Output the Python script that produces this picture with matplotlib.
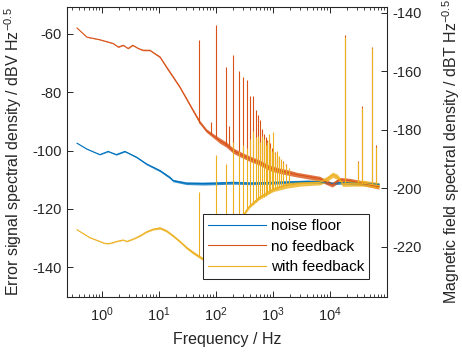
import numpy as np
import matplotlib
matplotlib.use("Agg")
import matplotlib.pyplot as plt
import matplotlib.ticker as ticker

plt.rcParams["font.family"] = ["Liberation Sans", "DejaVu Sans"]
plt.rcParams["mathtext.fontset"] = "custom"
plt.rcParams["mathtext.rm"] = "Liberation Sans"
plt.rcParams["mathtext.it"] = "Liberation Sans:italic"
plt.rcParams["mathtext.default"] = "regular"
plt.rcParams["axes.unicode_minus"] = False

#noise floor (Hz, dBV/rtHz, spread of the noise band)
noise_freq = [0.37, 0.55, 0.93, 1.3, 1.8, 2.55, 4.1, 6.1, 10.5, 15.6, 17.9, 30.6, 60, 100, 200,
              400, 1000, 2000, 4000, 8000, 11000, 15000, 30000, 72000]
noise_level = [-97.5, -99.5, -101.4, -100.3, -101.4, -100.3, -102.3, -104.6, -106.9, -109.2, -110.3,
               -111.2, -111.3, -111.2, -111.0, -111.2, -111.0, -110.8, -110.6, -110.8, -111.3, -111.0,
               -111.2, -111.6]
noise_spread = [0.05, 0.1, 0.12, 0.15, 0.2, 0.2, 0.25, 0.3, 0.35, 0.4, 0.4, 0.45, 0.5, 0.5, 0.5,
                0.5, 0.5, 0.5, 0.5, 0.5, 0.5, 0.5, 0.6, 0.6]

#no feedback
orange_freq = [0.37, 0.55, 0.93, 1.6, 1.95, 2.4, 2.9, 3.5, 4.4, 5.3, 7.0, 8.6, 10.5, 13.7, 17.9,
               23.4, 30.6, 39.9, 52.3, 68.5, 89.4, 117, 153, 200, 262, 392, 580, 860, 1300, 1900,
               2700, 4100, 6600, 9000, 11000, 14700, 22000, 40000, 72000]
orange_level = [-58.1, -61.2, -62.1, -63.4, -64.6, -64.0, -65.1, -64.0, -65.1, -65.7, -65.7, -66.9,
                -68.0, -71.5, -74.9, -78.3, -82.3, -86.3, -90.3, -93.2, -94.9, -96.6, -98.0,
                -100.0, -101.2, -102.8, -104.1, -105.9, -106.9, -107.6, -108.3, -108.9, -109.6,
                -111.0, -111.7, -110.0, -110.3, -111.3, -112.4]
orange_spread = [0.05, 0.1, 0.1, 0.15, 0.15, 0.15, 0.15, 0.15, 0.15, 0.2, 0.2, 0.25, 0.3, 0.4, 0.4,
                 0.4, 0.45, 0.5, 0.6, 0.6, 0.7, 0.9, 0.9, 0.9, 0.9, 0.9, 0.9, 0.9, 0.9, 0.9,
                 0.8, 0.8, 0.8, 0.8, 0.8, 0.8, 0.8, 0.8, 0.8]
orange_spike_freq = [50, 84, 100, 150, 168, 200, 250, 300, 350, 400, 450, 500, 550, 600, 650, 700,
                     750, 800, 850, 900, 950, 1000, 1100, 1200, 1300, 1500, 1700,
                     18400, 31500, 36600, 54700, 64300]
orange_spike_base = [-90.5, -94.5, -95.5, -98, -98.5, -100, -101, -101.8, -102.3, -102.8, -103.2,
                     -103.6, -104, -104.2, -104.5, -104.8, -105, -105.3, -105.5, -105.7, -105.9,
                     -106, -106.3, -106.5, -106.8, -107.2, -107.5,
                     -110.3, -111, -111, -111.3, -111.5]
orange_spike_peak = [-62.3, -90.3, -57.1, -71.5, -91.5, -67.4, -72.9, -74.9, -76, -81.2, -81.2,
                     -86.3, -88, -89.7, -92.6, -94.2, -95.5, -96.5, -96, -97.5, -99, -100, -100.5,
                     -101.5, -102.5, -103.5, -104.5,
                     -60.5, -103.5, -84.8, -64.5, -98.2]

#with feedback
yellow_freq = [0.37, 0.62, 0.93, 1.14, 1.4, 1.83, 2.39, 2.74, 3.57, 4.67, 6.12, 8.0, 10.5, 13.7,
               17.9, 23.4, 30.6, 39.9, 52.3, 70, 100, 150, 200, 250, 300, 343, 392, 586, 1000,
               1714, 3000, 5000, 6600, 8500, 11200, 13500, 16800, 25000, 40000, 72000]
yellow_level = [-127.1, -129.8, -131.1, -131.8, -131.8, -131.1, -130.6, -131.1, -130.3, -129.2,
                -127.8, -126.9, -126.5, -127.5, -129.2, -131.1, -133.2, -134.9, -136.4, -138,
                -139, -137, -133, -128, -122.5, -120.5, -119, -116, -113.4, -112, -111.3, -111.0,
                -110.9, -110, -108.3, -109, -111.4, -111.2, -111.2, -112]
yellow_spread = [0.05, 0.1, 0.1, 0.1, 0.1, 0.1, 0.15, 0.15, 0.15, 0.2, 0.25, 0.3, 0.4, 0.4, 0.4, 0.4,
                 0.45, 0.5, 0.5, 0.5, 0.5, 0.5, 0.5, 0.5, 0.6, 0.6, 0.6, 0.6, 0.7, 0.9, 0.9, 0.9,
                 0.9, 0.9, 0.9, 0.9, 0.9, 1.0, 1.0, 1.0]
yellow_spike_freq = [50, 100, 150, 200, 250, 300, 350, 400, 450, 500, 550, 600, 650, 700, 750, 800,
                     850, 900, 950, 1000, 1100, 1200, 1300, 1400, 1500, 1700, 1900,
                     18400, 31500, 36600, 54700, 64300]
yellow_spike_base = [-136.5, -139, -137, -133, -128, -122.5, -120.3, -119, -118.3, -117.7, -117,
                     -116.6, -116.3, -116, -115.5, -115, -114.7, -114.3, -114, -113.4, -113, -112.8,
                     -112.5, -112.3, -112, -111.8, -111.5,
                     -111, -111, -111, -111.3, -111.5]
yellow_spike_peak = [-114.3, -101.7, -104.5, -97.2, -100, -98, -99, -96, -93.2, -95.5, -94.9, -97,
                     -95, -96, -98, -97, -94.3, -99, -100, -93.7, -101, -100, -102, -103, -104,
                     -105, -106,
                     -61.2, -104, -85.4, -65.1, -98.7]

C_BLUE = "#0072BD"
C_ORANGE = "#D95319"
C_YELLOW = "#EDB120"
C_AXIS = "#262626"

#offset between the two y scales (dBV -> dBT)
LEFT_LIM = (-150, -51)
OFFSET = -87.1


def plot_trace(ax, freq, level, spread, color, label):
    lo = np.array(level) - np.array(spread)
    hi = np.array(level) + np.array(spread)
    ax.fill_between(freq, lo, hi, color=color, lw=0, alpha=0.8)
    ax.plot(freq, level, color=color, lw=0.8, label=label)


fig = plt.figure(figsize=(4.62, 3.56), dpi=100)
ax = fig.add_axes([0.1457, 0.1666, 0.692, 0.813])

plot_trace(ax, noise_freq, noise_level, noise_spread, C_BLUE, "noise floor")
plot_trace(ax, orange_freq, orange_level, orange_spread, C_ORANGE, "no feedback")
ax.vlines(orange_spike_freq, orange_spike_base, orange_spike_peak, color=C_ORANGE, lw=0.8)
plot_trace(ax, yellow_freq, yellow_level, yellow_spread, C_YELLOW, "with feedback")
ax.vlines(yellow_spike_freq, yellow_spike_base, yellow_spike_peak, color=C_YELLOW, lw=0.8)

# Format axes (MATLAB look)
ax.set_xscale("log")
ax.set_xlim(0.25, 1e5)
ax.set_ylim(*LEFT_LIM)
ax.set_yticks(np.arange(-140, -59, 20))
ax.xaxis.set_minor_locator(ticker.LogLocator(base=10, subs=np.arange(2, 10), numticks=10))
ax.xaxis.set_minor_formatter(ticker.NullFormatter())
ax.set_xticks([1, 10, 100, 1000, 10000])
ax.tick_params(axis="x", which="both", direction="in", top=True, colors=C_AXIS, labelsize=10.5, pad=6)
ax.tick_params(axis="x", which="major", length=4, width=0.7)
ax.tick_params(axis="x", which="minor", length=2, width=0.6)
ax.tick_params(axis="y", direction="in", right=False, length=4, width=0.7, colors=C_AXIS,
               labelsize=10.5, pad=4)
ax.set_xlabel("Frequency / Hz", fontsize=11.5, color=C_AXIS, labelpad=6)
ax.set_ylabel("Error signal spectral density / dBV Hz$^{-0.5}$", fontsize=11.5, color=C_AXIS,
              labelpad=6)

ax2 = ax.twinx()
ax2.set_ylim(LEFT_LIM[0] + OFFSET, LEFT_LIM[1] + OFFSET)
ax2.set_yticks(np.arange(-220, -139, 20))
ax2.tick_params(axis="y", direction="in", length=4, width=0.7, colors=C_AXIS, labelsize=10.5, pad=4)
ax2.set_ylabel("Magnetic field spectral density / dBT Hz$^{-0.5}$", fontsize=11.5, color=C_AXIS,
               labelpad=13)

for a in (ax, ax2):
    for s in a.spines.values():
        s.set_color(C_AXIS)
        s.set_linewidth(0.75)

leg = ax2.legend(*ax.get_legend_handles_labels(), loc="lower right",
                 bbox_to_anchor=(0.9446, 0.0594), fontsize=11, frameon=True, fancybox=False,
                 handlelength=3.8, handletextpad=0.3, labelspacing=0.42, borderpad=0.35,
                 borderaxespad=0)
leg.get_frame().set_edgecolor(C_AXIS)
leg.get_frame().set_linewidth(0.75)
leg.get_frame().set_alpha(1)

fig.savefig("out.png", dpi=100)
